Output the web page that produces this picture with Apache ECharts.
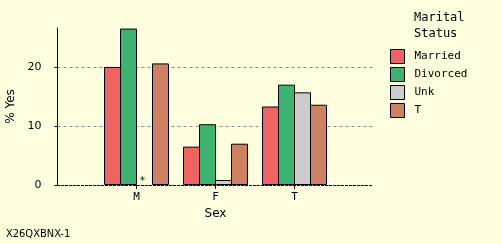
<!DOCTYPE html>
<html><head><meta charset="utf-8">
<script src="https://cdn.jsdelivr.net/npm/echarts@6/dist/echarts.min.js"></script>
<style>html,body{margin:0;padding:0;background:#FFFFE0;}#c{width:502px;height:244px;}</style>
</head><body><div id="c"></div>
<script>
const categories = ['', 'M', 'F', 'T', ''];
const seriesNames = ['Married', 'Divorced', 'Unk', 'T'];
const married = [null, 20.0, 6.5, 13.3, null];
const divorced = [null, 26.5, 10.3, 17.0, null];
const unk = [null, 0, 0.85, 15.7, null];
const total = [null, 20.6, 7.0, 13.6, null];
const missingMark = [false, true, false, false, false];
const colors = ['#EF6363', '#3CB371', '#CCCCCC', '#CD8162'];
const yTicks = [0, 10, 20];

const chart = echarts.init(document.getElementById('c'), null, {renderer: 'canvas'});
const mono = 'DejaVu Sans Mono';
const sans = 'DejaVu Sans';

function mk(name, data, color, isUnk) {
  return {
    name: name, type: 'bar', barWidth: 17, barGap: '-5.8824%',
    itemStyle: {color: color, borderColor: '#000', borderWidth: 1},
    data: data.map((v, i) => {
      if (isUnk && missingMark[i]) {
        return {value: v, itemStyle: {opacity: 0},
          label: {show: true, position: 'insideBottom', formatter: '*', color: '#000', fontFamily: mono, fontSize: 10, offset: [-2, 6], opacity: 1}};
      }
      return v;
    })
  };
}

chart.setOption({
  backgroundColor: '#FFFFE0',
  animation: false,
  title: {text: 'Marital\nStatus', left: 414, top: 10, padding: 0,
    textStyle: {fontFamily: mono, fontSize: 12, fontWeight: 'normal', color: '#000', lineHeight: 16}},
  legend: {orient: 'vertical', left: 390, top: 49, padding: 0, itemWidth: 14, itemHeight: 14, itemGap: 3,
    icon: 'rect', data: seriesNames,
    itemStyle: {borderWidth: 1, borderColor: '#000'},
    textStyle: {fontFamily: mono, fontSize: 11, color: '#000', padding: [0,0,0,5]}},
  grid: {left: 57.5, right: 128.5, top: 28, bottom: 59, outerBoundsMode: 'none', containLabel: false},
  xAxis: {type: 'category', data: categories, boundaryGap: false,
    name: 'Sex', nameLocation: 'middle', nameGap: 19,
    nameTextStyle: {fontFamily: sans, fontSize: 12, color: '#000'},
    axisLine: {lineStyle: {color: '#000', type: [2, 2], width: 1}},
    axisTick: {length: 4, lineStyle: {color: '#000'}, interval: (i, v) => v !== ''},
    axisLabel: {fontFamily: mono, fontSize: 11, color: '#000', margin: 7, interval: 0},
    splitLine: {show: false}},
  yAxis: {type: 'value', min: 0, max: 26.6, interval: 10,
    name: '% Yes', nameLocation: 'middle', nameGap: 38, nameRotate: 90,
    nameTextStyle: {fontFamily: sans, fontSize: 12, color: '#000'},
    axisLine: {show: true, lineStyle: {color: '#000'}},
    axisTick: {show: true, length: 3, lineStyle: {color: '#000'}},
    axisLabel: {fontFamily: sans, fontSize: 11, color: '#000', margin: 16, showMaxLabel: false,
      formatter: v => yTicks.includes(v) ? String(v) : ''},
    splitLine: {show: true, showMaxLine: false, lineStyle: {color: '#888', type: [3, 3], width: 1}}},
  graphic: [{type: 'text', left: 6, top: 229,
    style: {text: 'X26QXBNX-1', font: '11px "DejaVu Sans Condensed", "DejaVu Sans"', fill: '#000'}}],
  series: [
    mk('Married', married, colors[0]),
    mk('Divorced', divorced, colors[1]),
    mk('Unk', unk, colors[2], true),
    mk('T', total, colors[3])
  ]
});
</script></body></html>
